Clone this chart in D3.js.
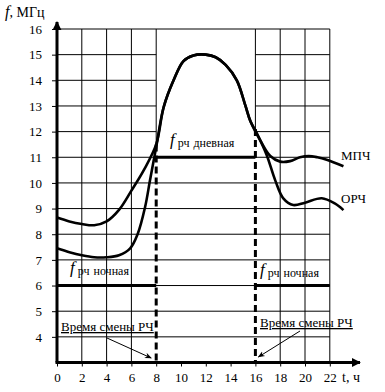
<!DOCTYPE html>
<html>
<head>
<meta charset="utf-8">
<script src="https://cdn.jsdelivr.net/npm/d3@7"></script>
<style>
  body { margin: 0; background: #fff; }
  text { font-family: "Liberation Serif", "Times New Roman", serif; fill: #000; }
</style>
</head>
<body>
<svg id="chart" width="385" height="392"></svg>
<script>
// Data
var hours = [0, 2, 4, 6, 8, 10, 12, 14, 16, 18, 20, 22];
var freqTicks = [4, 5, 6, 7, 8, 9, 10, 11, 12, 13, 14, 15, 16];

// shared daytime part of both curves
var dayPart = [[8.6, 12.95], [9.4, 14.0], [10.2, 14.75], [11, 14.97], [12, 15.0],
               [12.8, 14.9], [13.6, 14.6], [14.5, 14.0], [15.2, 13.0], [15.6, 12.4]];

var mpch = [[0, 8.65], [1, 8.5], [2, 8.4], [3, 8.35], [4, 8.5], [5, 8.95], [6, 9.7],
            [7, 10.5], [8, 11.5]].concat(dayPart,
           [[16.4, 11.65], [17.2, 11.05], [18, 10.83], [18.8, 10.85], [19.6, 11.0],
            [20.3, 11.05], [21, 11.0], [21.75, 10.9], [23.1, 10.65]]);

var orch = [[0, 7.45], [1, 7.3], [2, 7.18], [3, 7.1], [4, 7.1], [5, 7.18], [5.9, 7.45],
            [6.5, 8.0], [7.1, 9.05], [7.5, 10.1], [8.0, 11.4]].concat(dayPart,
           [[16.1, 11.95], [16.9, 11.1], [17.6, 10.1], [18.25, 9.4], [19.05, 9.14],
            [20, 9.23], [21.35, 9.4], [22.4, 9.2], [23.1, 8.94]]);

var fNight = 6, fDay = 11;
var switchTimes = [8, 16];
var switchTop = [11.5, 12.1];

var svg = d3.select('#chart');
var x = d3.scaleLinear().domain([0, 22]).range([57, 329.8]);
var y = d3.scaleLinear().domain([3, 16]).range([362.5, 29]);

var grid = svg.append('g').attr('stroke', '#000').attr('stroke-width', 1);

// horizontal grid lines (gap in the middle above fDay)
freqTicks.forEach(function(v) {
  if (v > fDay && v < 16) {
    grid.append('line').attr('x1', x(0)).attr('x2', x(8)).attr('y1', y(v)).attr('y2', y(v));
    grid.append('line').attr('x1', x(16)).attr('x2', x(22)).attr('y1', y(v)).attr('y2', y(v));
  } else {
    grid.append('line').attr('x1', x(0)).attr('x2', x(22)).attr('y1', y(v)).attr('y2', y(v));
  }
});

// vertical grid lines
hours.forEach(function(h) {
  if (h === 0 || (h > 8 && h < 16)) return;
  var i = switchTimes.indexOf(h);
  var bottom = i >= 0 ? switchTop[i] : 3;
  grid.append('line').attr('x1', x(h)).attr('x2', x(h)).attr('y1', y(16)).attr('y2', y(bottom));
});

// axes
var yAxis = d3.axisLeft(y).tickValues(freqTicks).tickSize(5).tickPadding(10);
svg.append('g').attr('transform', 'translate(' + x(0) + ',0)').call(yAxis)
  .call(function(g) { g.select('.domain').remove(); })
  .call(function(g) {
    g.selectAll('text').style('font-family', '"Liberation Serif", serif').style('font-size', '13px');
  });

var xAxis = d3.axisBottom(x).tickValues(hours).tickSize(4).tickPadding(6);
svg.append('g').attr('transform', 'translate(0,' + y(3) + ')').call(xAxis)
  .call(function(g) { g.select('.domain').remove(); })
  .call(function(g) {
    g.selectAll('text').style('font-family', '"Liberation Serif", serif').style('font-size', '13px');
  });

svg.append('defs').append('marker')
  .attr('id', 'big').attr('viewBox', '0 0 10 10').attr('refX', 9).attr('refY', 5)
  .attr('markerWidth', 3).attr('markerHeight', 3).attr('orient', 'auto')
  .append('path').attr('d', 'M0,0 L10,5 L0,10 z');
svg.select('defs').append('marker')
  .attr('id', 'small').attr('viewBox', '0 0 10 10').attr('refX', 9).attr('refY', 5)
  .attr('markerWidth', 7).attr('markerHeight', 7).attr('orient', 'auto')
  .append('path').attr('d', 'M0,1 L10,5 L0,9 L3,5 z');

svg.append('line').attr('x1', x(0)).attr('x2', x(0)).attr('y1', y(3)).attr('y2', y(16) - 7)
  .attr('stroke', '#000').attr('stroke-width', 3).attr('marker-end', 'url(#big)');
svg.append('line').attr('x1', x(0) - 1.5).attr('x2', 360).attr('y1', y(3)).attr('y2', y(3))
  .attr('stroke', '#000').attr('stroke-width', 3).attr('marker-end', 'url(#big)');

// working frequency lines
var thick = svg.append('g').attr('stroke', '#000').attr('stroke-width', 3);
thick.append('line').attr('x1', x(0)).attr('x2', x(8)).attr('y1', y(fNight)).attr('y2', y(fNight));
thick.append('line').attr('x1', x(16)).attr('x2', x(22)).attr('y1', y(fNight)).attr('y2', y(fNight));
thick.append('line').attr('x1', x(8)).attr('x2', x(16)).attr('y1', y(fDay)).attr('y2', y(fDay));

// dashed switching lines
switchTimes.forEach(function(t, i) {
  svg.append('line').attr('x1', x(t)).attr('x2', x(t)).attr('y1', y(switchTop[i])).attr('y2', y(3))
    .attr('stroke', '#000').attr('stroke-width', 3).attr('stroke-dasharray', '7,4');
});

// curves
var line = d3.line().x(function(d) { return x(d[0]); }).y(function(d) { return y(d[1]); })
  .curve(d3.curveCatmullRom.alpha(0.5));
[mpch, orch].forEach(function(s) {
  svg.append('path').attr('d', line(s)).attr('fill', 'none')
    .attr('stroke', '#000').attr('stroke-width', 2.6);
});

// labels
svg.append('text').attr('x', 5).attr('y', 17).style('font-size', '14px')
  .html('<tspan font-style="italic" font-size="16px">f</tspan>, МГц');
svg.append('text').attr('x', 342).attr('y', 382).style('font-size', '14px').text('t, ч');
svg.append('text').attr('x', 341).attr('y', 160).style('font-size', '13px').text('МПЧ');
svg.append('text').attr('x', 341).attr('y', 203).style('font-size', '13px').text('ОРЧ');

function fLabel(px, py, word) {
  svg.append('text').attr('x', px).attr('y', py).style('font-size', '12px')
    .html('<tspan font-style="italic" font-size="17px">f</tspan><tspan dx="3" dy="2">рч</tspan><tspan dx="4">' + word + '</tspan>');
}
fLabel(170, 145, 'дневная');
fLabel(70, 273, 'ночная');
fLabel(260, 275, 'ночная');

function switchLabel(px, py, from, to) {
  svg.append('text').attr('x', px).attr('y', py).style('font-size', '13px')
    .style('text-decoration', 'underline').text('Время смены РЧ');
  svg.append('line').attr('x1', from[0]).attr('y1', from[1]).attr('x2', to[0]).attr('y2', to[1])
    .attr('stroke', '#000').attr('stroke-width', 1).attr('marker-end', 'url(#small)');
}
switchLabel(61, 331, [107, 338], [x(8) - 5, 358]);
switchLabel(260, 327, [300, 331], [x(16) + 3, 357]);
</script>
</body>
</html>
